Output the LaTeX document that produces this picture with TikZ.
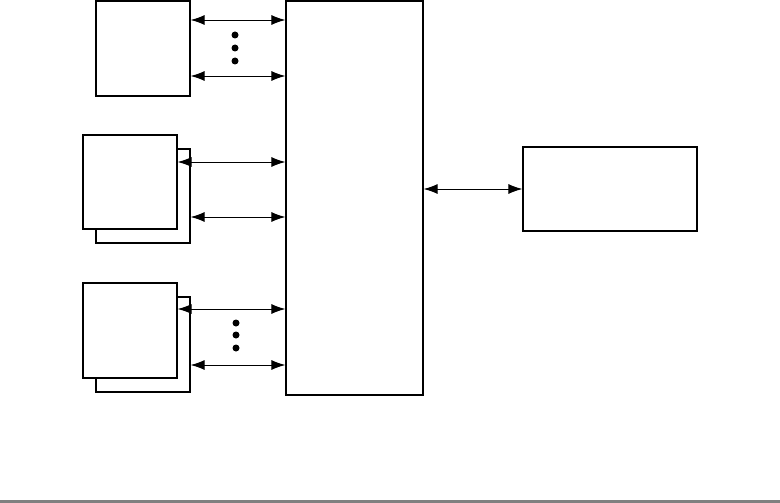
\documentclass[tikz,border=0pt]{standalone}
\usetikzlibrary{arrows.meta}
\begin{document}
\begin{tikzpicture}[x=1pt,y=-1pt,
  blk/.style={draw,rectangle,line width=1.3pt,fill=white,inner sep=0pt},
  link/.style={>={Latex[length=14pt,width=10pt]},<->,line width=0.9pt},
  dot/.style={circle,fill,inner sep=0pt,minimum size=7pt}]
\useasboundingbox (0,0) rectangle (780,503);

\node[blk,minimum width=94pt,minimum height=95pt] (top) at (143,48.5) {};
\node[blk,minimum width=137pt,minimum height=394pt] (bus) at (354.5,198) {};
\node[blk,minimum width=174pt,minimum height=84pt] (host) at (610,189) {};

\node[blk,minimum width=94pt,minimum height=94pt] (midb) at (143,196) {};
\node[blk,minimum width=94pt,minimum height=94pt] (midf) at (130,182) {};
\node[blk,minimum width=94pt,minimum height=95pt] (lowb) at (143,344.5) {};
\node[blk,minimum width=94pt,minimum height=95pt] (lowf) at (130,330.5) {};

\node[dot] (d1) at (235,35) {};
\node[dot] (d2) at (235,48) {};
\node[dot] (d3) at (235,61) {};
\node[dot] (d4) at (236,323) {};
\node[dot] (d5) at (236,335) {};
\node[dot] (d6) at (236,348) {};

\draw[link] (top.east |- 0,20) -- (bus.west |- 0,20);
\draw[link] (top.east |- 0,76) -- (bus.west |- 0,76);
\draw[link] (midf.east |- 0,162) -- (bus.west |- 0,162);
\draw[link] (midb.east |- 0,217) -- (bus.west |- 0,217);
\draw[link] (lowf.east |- 0,309) -- (bus.west |- 0,309);
\draw[link] (lowb.east |- 0,365) -- (bus.west |- 0,365);
\draw[link] (bus.east |- host.west) -- (host.west);

\fill[gray] (0,500) rectangle (780,503);
\end{tikzpicture}
\end{document}
